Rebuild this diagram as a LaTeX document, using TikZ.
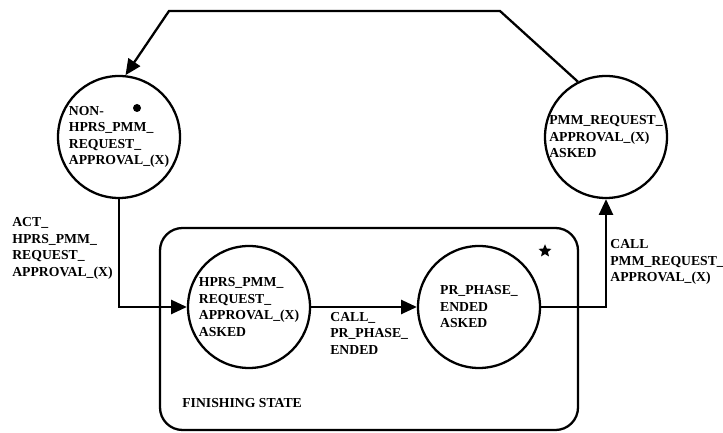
\documentclass[tikz,border=0pt]{standalone}
\usepackage{fontspec}
\setmainfont{Liberation Serif}
\usetikzlibrary{arrows.meta,positioning,shapes.geometric}

\begin{document}
\begin{tikzpicture}[
  state/.style={draw,circle,line width=1.3pt,minimum size=2.44cm,inner sep=0pt,align=left,font=\fontsize{7.8}{9.4}\selectfont\bfseries},
  lbl/.style={inner sep=0pt,anchor=west,align=left,font=\fontsize{7.8}{9.4}\selectfont\bfseries},
  flow/.style={line width=1.3pt,-{Triangle[length=9pt,width=8pt]}}]
\useasboundingbox (0,0) rectangle (14.46,8.66);
% finishing state box
\node[draw,line width=1.3pt,rounded corners=0.45cm,minimum width=8.36cm,minimum height=4.04cm] (finish) at (7.38,2.08) {};
\node[lbl] (finlbl) at (3.64,0.6) {FINISHING STATE};
\node[star,star points=5,star point ratio=2.2,fill,inner sep=0pt,minimum size=0.27cm] (finstar) at (10.9,3.64) {};
% states
\node[state] (nonhprs) at (2.38,5.92) {NON-\\HPRS\_PMM\_\\REQUEST\_\\APPROVAL\_(X)};
\node[circle,fill,inner sep=0pt,minimum size=0.16cm] (initdot) at (2.74,6.50) {};
\node[state] (pmmasked) at (12.12,5.92) {PMM\_REQUEST\_\\APPROVAL\_(X)\\ASKED};
\node[state] (hprsasked) at (4.98,2.52) {HPRS\_PMM\_\\REQUEST\_\\APPROVAL\_(X)\\ASKED};
\node[state] (prended) at (9.58,2.52) {PR\_PHASE\_\\ENDED\\ASKED};
% transitions
\coordinate (topr) at (10.0,8.44);
\coordinate (topl) at (3.38,8.44);
\draw[flow] (pmmasked.117) -- (topr) -- (topl) -- (nonhprs.84);
\draw[flow] (nonhprs.south) |- (hprsasked.west);
\draw[flow] (hprsasked) -- (prended);
\draw[flow] (prended.east) -| (pmmasked.south);
\node[lbl] (actlbl) at (0.24,3.69) {ACT\_\\HPRS\_PMM\_\\REQUEST\_\\APPROVAL\_(X)};
\node[lbl] (calllbl) at (6.6,2.0) {CALL\_\\PR\_PHASE\_\\ENDED};
\node[lbl] (pmmlbl) at (12.2,3.42) {CALL\\PMM\_REQUEST\_\\APPROVAL\_(X)};
\end{tikzpicture}
\end{document}
